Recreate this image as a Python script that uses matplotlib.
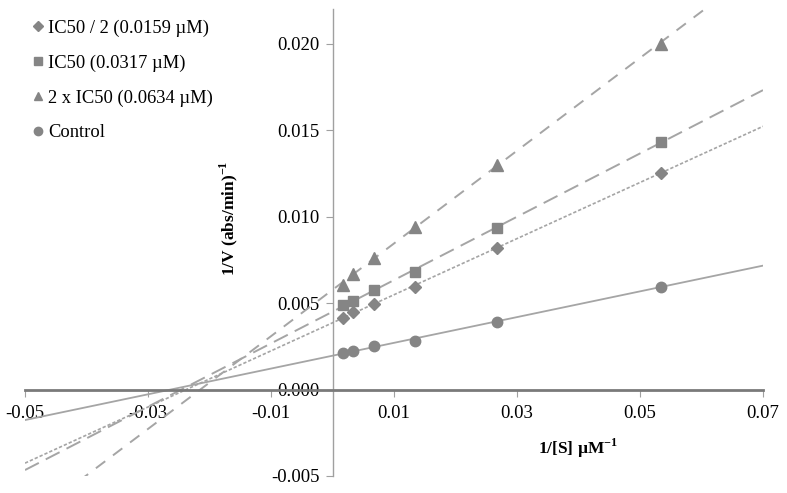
import numpy as np
import matplotlib.pyplot as plt

plt.rcParams['font.family'] = 'serif'
plt.rcParams['font.serif'] = ['Liberation Serif', 'DejaVu Serif']
plt.rcParams['mathtext.fontset'] = 'custom'
plt.rcParams['mathtext.rm'] = 'Liberation Serif'
plt.rcParams['mathtext.bf'] = 'Liberation Serif:bold'

# 1/[S] (uM^-1) and 1/V values
inv_s = [1/600, 1/300, 1/150, 1/75, 1/37.5, 1/18.75]
half_ic50 = [0.00412, 0.00447, 0.00493, 0.00594, 0.00820, 0.01252]
ic50 = [0.00487, 0.00514, 0.00574, 0.00680, 0.00935, 0.01430]
double_ic50 = [0.00603, 0.00670, 0.00760, 0.00940, 0.01300, 0.02000]
control = [0.00212, 0.00222, 0.00250, 0.00282, 0.00393, 0.00595]

labels = ["IC50 / 2 (0.0159 \u00b5M)", "IC50 (0.0317 \u00b5M)",
          "2 x IC50 (0.0634 \u00b5M)", "Control"]
xticks = [-0.05, -0.03, -0.01, 0.01, 0.03, 0.05, 0.07]
yticks = [-0.005, 0.000, 0.005, 0.010, 0.015, 0.020]

fig = plt.figure(figsize=(7.87, 4.93), dpi=100)
ax = fig.add_axes([25/787, 1 - 476/493, 738/787, 467/493])

series = [
    (half_ic50, "D", 6.5, (0, (2, 1.2)), 1.2),
    (ic50, "s", 7, (0, (8, 4)), 1.4),
    (double_ic50, "^", 8, (0, (6, 5)), 1.4),
    (control, "o", 7.5, "-", 1.3),
]

xfit = np.array([-0.05, 0.07])
for (vals, mk, ms, ls, lw), lab in zip(series, labels):
    k, b = np.polyfit(inv_s, vals, 1)
    ax.plot(xfit, k * xfit + b, color="#a5a5a5", linestyle=ls, linewidth=lw, zorder=2)
    ax.plot(inv_s, vals, linestyle="none", marker=mk, markersize=ms,
            color="#858585", label=lab, zorder=3)

ax.set_xlim(-0.05, 0.07)
ax.set_ylim(-0.005, 0.022)

for s in ["top", "right"]:
    ax.spines[s].set_visible(False)
ax.spines["left"].set_position(("data", 0))
ax.spines["bottom"].set_position(("data", 0))
ax.spines["left"].set_color("#a0a0a0")
ax.spines["left"].set_linewidth(1)
ax.spines["bottom"].set_color("#7a7a7a")
ax.spines["bottom"].set_linewidth(2)

ax.set_xticks(xticks)
ax.set_xticklabels([f"{v:.2f}" for v in xticks])
ax.set_yticks(yticks)
ax.set_yticklabels([f"{v:.3f}" for v in yticks])
ax.tick_params(axis="both", labelsize=13.5, direction="out", length=5,
               color="#a0a0a0", pad=4)
ax.tick_params(axis="x", pad=6)

ax.set_ylabel("1/V (abs/min)$^{\\mathbf{-1}}$", fontsize=12.5, fontweight="bold")
ax.yaxis.set_label_coords(0.291, 0.552)
ax.text(0.749, 0.060, "1/[S] \u00b5M$^{\\mathbf{-1}}$", transform=ax.transAxes,
        fontsize=12.5, fontweight="bold", ha="center", va="center")

ax.legend(loc="upper left", bbox_to_anchor=(-0.017, 1.013), frameon=False,
          fontsize=13.3, handletextpad=0.05, labelspacing=0.95,
          handlelength=1.0, markerscale=0.8)

fig.savefig("out.png", dpi=100)
